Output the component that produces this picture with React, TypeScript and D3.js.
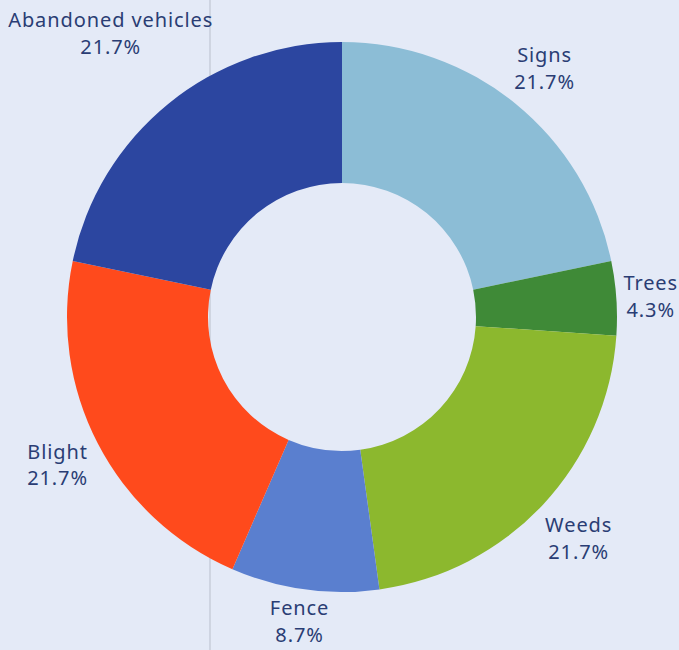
import React, { useEffect, useRef } from "react";
import * as d3 from "d3";

// Chart data
const categories = ["Signs", "Trees", "Weeds", "Fence", "Blight", "Abandoned vehicles"];
const counts = [5, 1, 5, 2, 5, 5];
const colors = ["#8cbdd6", "#3f8a37", "#8cb82e", "#5a7fcf", "#ff4a1c", "#2c46a0"];

const WIDTH = 679;
const HEIGHT = 650;

function App() {
  const chartRef = useRef<SVGSVGElement | null>(null);

  useEffect(() => {
    const svg = d3.select(chartRef.current);
    svg.selectAll("*").remove();

    const cx = 342;
    const cy = 317;
    const outer = 275;
    const inner = 134;

    svg.append("rect").attr("width", WIDTH).attr("height", HEIGHT).attr("fill", "#e4eaf7");

    // faint scan line
    svg
      .append("line")
      .attr("x1", 210)
      .attr("x2", 210)
      .attr("y1", 0)
      .attr("y2", HEIGHT)
      .attr("stroke", "#b9bfcc")
      .attr("stroke-width", 1);

    const data = categories.map((c, i) => ({ name: c, count: counts[i], color: colors[i] }));
    const total = d3.sum(counts);

    const piedata = d3
      .pie<any>()
      .sort(null)
      .value((d: any) => d.count)(data);

    const arc = d3.arc<any>().innerRadius(inner).outerRadius(outer);

    const g = svg.append("g").attr("transform", `translate(${cx}, ${cy})`);

    g.selectAll("path")
      .data(piedata)
      .enter()
      .append("path")
      .attr("d", arc as any)
      .attr("fill", (d: any) => d.data.color);

    // labels outside the ring, kept inside the picture
    const fmt = d3.format(".1%");
    const pad = 6;
    piedata.forEach((d: any) => {
      const mid = (d.startAngle + d.endAngle) / 2;
      const ux = Math.sin(mid);
      const uy = -Math.cos(mid);
      const t = g
        .append("text")
        .attr("text-anchor", "middle")
        .attr("font-family", "'Noto Sans', sans-serif")
        .attr("font-size", 20)
        .attr("letter-spacing", 0.9)
        .attr("fill", "#2a3d74");
      t.append("tspan").attr("x", 0).attr("dy", "-0.25em").text(d.data.name);
      t.append("tspan").attr("x", 0).attr("dy", "1.33em").text(fmt(d.data.count / total));
      const bb = (t.node() as SVGTextElement).getBBox();
      const hw = bb.width / 2;
      const hh = bb.height / 2;
      const r = outer + pad + hw * Math.abs(ux) + hh * Math.abs(uy);
      let ox = r * ux - (bb.x + hw);
      let oy = r * uy - (bb.y + hh);
      const maxBottom = HEIGHT - cy - 2;
      if (bb.y + oy + bb.height > maxBottom) oy = maxBottom - bb.height - bb.y;
      const maxRight = WIDTH - cx - 1;
      if (bb.x + ox + bb.width > maxRight) ox = maxRight - bb.width - bb.x;
      t.attr("transform", `translate(${ox}, ${oy})`);
    });
  }, []);

  return (
    <svg
      ref={chartRef}
      width={WIDTH}
      height={HEIGHT}
      style={{ position: "absolute", left: 0, top: 0, display: "block" }}
    />
  );
}

export default App;
